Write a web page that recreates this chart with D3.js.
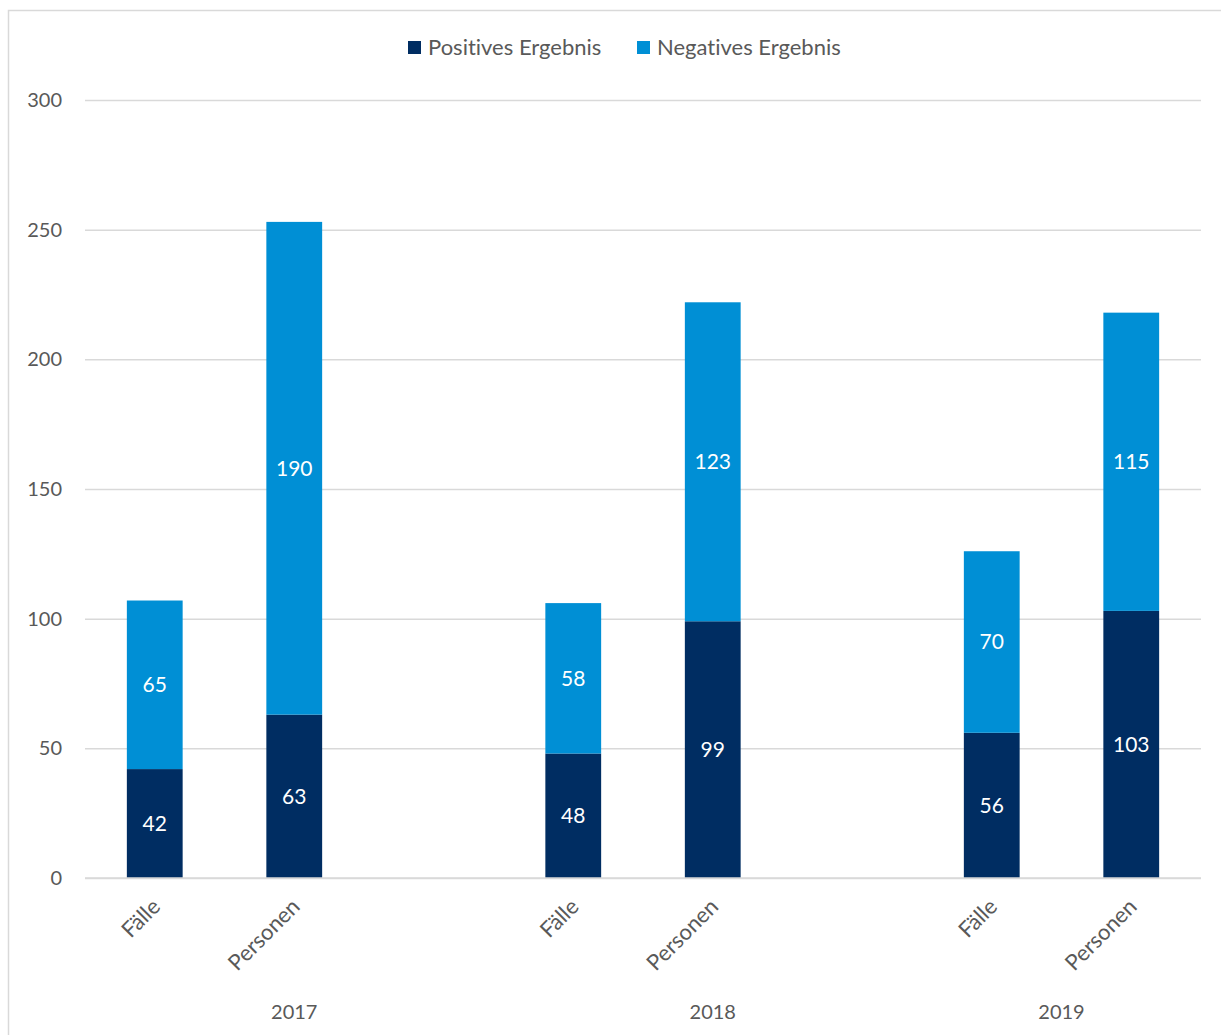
<!DOCTYPE html>
<html lang="de">
<head>
    <meta charset="UTF-8">
    <title>Ergebnisse 2017-2019</title>
    <script src="https://d3js.org/d3.v7.min.js"></script>
    <style>
        body {
            margin: 0;
            background: #fff;
            font-family: Lato, 'Open Sans', sans-serif;
        }
        svg text { font-variant-ligatures: none; }
        .tick text { fill: #595959; }
        .label { fill: #fff; text-anchor: middle; }
    </style>
</head>
<body>
    <div id="chart"></div>
    <script>
        // empty slots between the years, like the Excel sheet
        const years = ["2017", "2018", "2019"];
        const yearOf = ["2017", "2017", "2017", "2018", "2018", "2018", "2019", "2019"];
        const categories = ["Fälle", "Personen", "", "Fälle", "Personen", "", "Fälle", "Personen"];
        const positive = [42, 63, null, 48, 99, null, 56, 103];
        const negative = [65, 190, null, 58, 123, null, 70, 115];
        const yTicks = [0, 50, 100, 150, 200, 250, 300];
        const seriesNames = ["Positives Ergebnis", "Negatives Ergebnis"];
        const colors = ["#002D62", "#008FD5"];

        const width = 1221;
        const height = 1035;
        const margin = {left: 85, right: 20, top: 100, bottom: 157};

        const svg = d3.select("#chart")
            .append("svg")
            .attr("width", width)
            .attr("height", height);

        // outer frame
        svg.append("rect")
            .attr("x", 8.5).attr("y", 10.5)
            .attr("width", 1240).attr("height", 1050)
            .attr("fill", "none")
            .attr("stroke", "#d9d9d9")
            .attr("stroke-width", 1.5);

        const slots = d3.range(categories.length);
        const x = d3.scaleBand()
            .domain(slots)
            .range([margin.left, width - margin.right])
            .paddingInner(0.6)
            .paddingOuter(0.3);

        const y = d3.scaleLinear()
            .domain([0, 300])
            .range([height - margin.bottom, margin.top]);

        // grid + y labels
        svg.append("g")
            .attr("transform", `translate(${margin.left},0)`)
            .call(d3.axisLeft(y).tickValues(yTicks).tickSize(-(width - margin.left - margin.right)).tickPadding(23))
            .call(g => g.select(".domain").remove())
            .call(g => g.selectAll(".tick line").attr("stroke", "#d9d9d9").attr("stroke-width", 1.5))
            .call(g => g.selectAll(".tick text").attr("font-size", 20).attr("font-family", "Lato, sans-serif"));

        const stacked = slots.filter(i => positive[i] != null).map(i => ({
            i: i,
            parts: [
                {y0: 0, y1: positive[i], v: positive[i], c: 0},
                {y0: positive[i], y1: positive[i] + negative[i], v: negative[i], c: 1}
            ]
        }));

        const groups = svg.selectAll(".bar")
            .data(stacked)
            .join("g")
            .attr("class", "bar");

        groups.selectAll("rect")
            .data(d => d.parts.map(p => ({...p, i: d.i})))
            .join("rect")
            .attr("x", d => x(d.i))
            .attr("width", x.bandwidth())
            .attr("y", d => y(d.y1))
            .attr("height", d => y(d.y0) - y(d.y1))
            .attr("fill", d => colors[d.c]);

        groups.selectAll("text")
            .data(d => d.parts.map(p => ({...p, i: d.i})))
            .join("text")
            .attr("class", "label")
            .attr("x", d => x(d.i) + x.bandwidth() / 2)
            .attr("y", d => y((d.y0 + d.y1) / 2))
            .attr("dy", "0.35em")
            .attr("font-size", 21)
            .text(d => d.v);

        // baseline
        svg.append("line")
            .attr("x1", margin.left).attr("x2", width - margin.right)
            .attr("y1", y(0)).attr("y2", y(0))
            .attr("stroke", "#d9d9d9").attr("stroke-width", 1.5);

        // rotated category labels
        svg.selectAll(".cat")
            .data(slots.filter(i => categories[i] !== ""))
            .join("text")
            .attr("class", "cat")
            .attr("transform", i => `translate(${x(i) + x.bandwidth() / 2 + 7},${y(0) + 30}) rotate(-45)`)
            .attr("text-anchor", "end")
            .attr("font-size", 22)
            .attr("fill", "#595959")
            .text(i => categories[i]);

        // year labels, centred on their group of slots
        svg.selectAll(".year")
            .data(years)
            .join("text")
            .attr("class", "year")
            .attr("x", yr => {
                const idx = slots.filter(i => yearOf[i] === yr);
                return d3.mean(idx, i => x(i) + x.bandwidth() / 2);
            })
            .attr("y", 1019)
            .attr("text-anchor", "middle")
            .attr("font-size", 20)
            .attr("fill", "#595959")
            .text(yr => yr);

        // legend
        const legendX = [408, 637];
        const legend = svg.selectAll(".legend")
            .data(seriesNames)
            .join("g")
            .attr("class", "legend")
            .attr("transform", (d, i) => `translate(${legendX[i]},41)`);

        legend.append("rect")
            .attr("width", 13).attr("height", 13)
            .attr("fill", (d, i) => colors[i]);

        legend.append("text")
            .attr("x", 20).attr("y", 14)
            .attr("font-size", 22)
            .attr("fill", "#595959")
            .text(d => d);
    </script>
</body>
</html>
